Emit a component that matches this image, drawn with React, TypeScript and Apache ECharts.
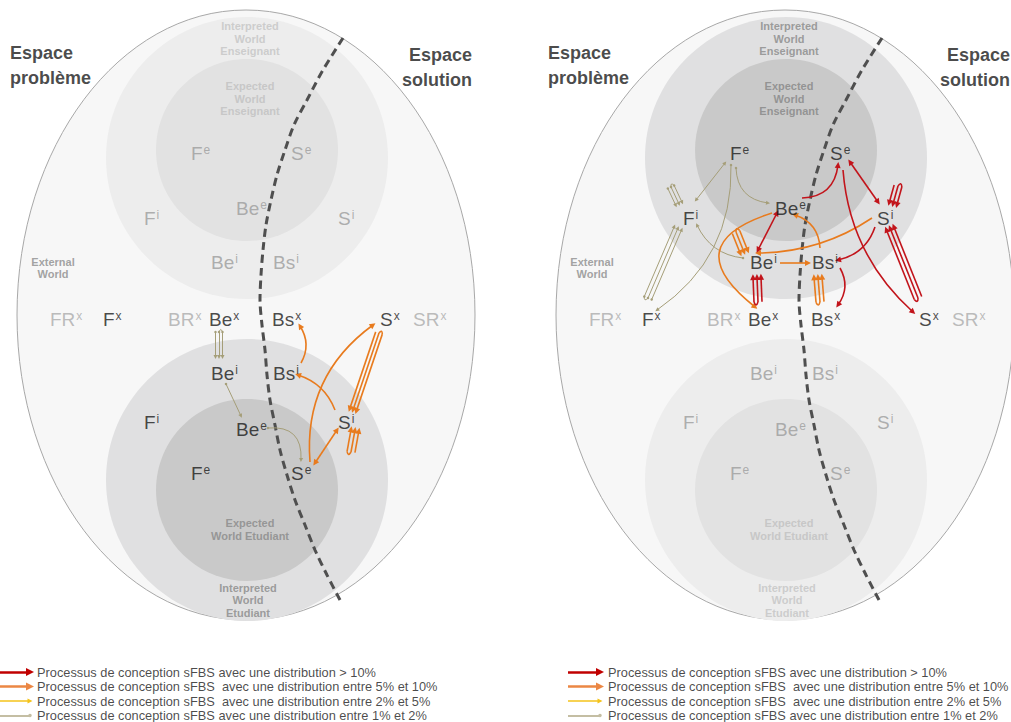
import React, { useEffect, useRef } from 'react';
import * as echarts from 'echarts';

const FONT = '"Liberation Sans", Arial, Helvetica, sans-serif';
const SHIFT = 539; // horizontal distance between the two diagrams

// ---------- regions: [cx, cy, rx, ry, fillIndex]
const regionFills = ['#f7f7f7', '#ededed', '#e2e2e2', '#e0e0e1', '#c9c9c9'];
const worldEllipses = [
  [246, 315, 229, 305, 0],
  [785, 315, 229, 305, 0],
];
const worldCircles = [
  [247, 158, 141, 141, 1], [247, 150, 91, 91, 2], [247, 480, 141, 141, 3], [247, 490, 91, 91, 4],
  [786, 158, 141, 141, 3], [786, 150, 91, 91, 4], [786, 480, 141, 141, 1], [786, 490, 91, 91, 2],
];

// ---------- dashed boundary (left diagram; right one is shifted)
const boundaryX = [343, 323, 307, 294, 285, 277, 271, 266, 263, 261, 260, 262, 265, 267, 270, 275, 280, 287, 295, 305, 315, 327, 340];
const boundaryY = [38, 70, 100, 125, 150, 175, 200, 225, 250, 275, 300, 325, 350, 375, 400, 425, 450, 475, 500, 525, 550, 575, 600];

// ---------- nodes (left diagram positions, text start x / center y)
const nodeBase = ['F', 'S', 'Be', 'F', 'S', 'Be', 'Bs', 'FR', 'F', 'BR', 'Be', 'Bs', 'S', 'SR', 'Be', 'Bs', 'F', 'Be', 'S', 'F', 'S'];
const nodeSup = ['e', 'e', 'e', 'i', 'i', 'i', 'i', 'x', 'x', 'x', 'x', 'x', 'x', 'x', 'i', 'i', 'i', 'e', 'i', 'e', 'e'];
const nodeX = [191, 291, 236, 144, 338, 211, 273, 50, 103, 168, 209, 272, 380, 413, 211, 273, 144, 236, 338, 191, 291];
const nodeY = [153, 153, 208, 218, 218, 262, 262, 319, 319, 319, 319, 319, 319, 319, 373, 373, 422, 429, 422, 473, 473];
const nodeToneLeft = ['f', 'f', 'f', 'f', 'f', 'f', 'f', 'g', 'a', 'g', 'a', 'a', 'a', 'g', 'a', 'a', 'a', 'a', 'a', 'a', 'a'];
const nodeToneRight = ['a', 'a', 'a', 'a', 'a', 'a', 'a', 'g', 'a', 'g', 'a', 'a', 'a', 'g', 'f', 'f', 'f', 'f', 'f', 'f', 'f'];

// ---------- zone captions
const zoneText = ['Interpreted\nWorld\nEnseignant', 'Expected\nWorld\nEnseignant', 'External\nWorld', 'Expected\nWorld Etudiant', 'Interpreted\nWorld\nEtudiant'];
const zoneX = [250, 250, 53, 250, 248];
const zoneY = [38.5, 98.5, 268, 529.5, 600];
const zoneColorLeft = ['#c4c4c4', '#c0c0c0', '#8c8c8c', '#888888', '#888888'];
const zoneColorRight = ['#888888', '#858585', '#8c8c8c', '#c0c0c0', '#c4c4c4'];

// ---------- headings
const headingText = ['Espace\nproblème', 'Espace\nsolution'];

// ---------- arrows [x1, y1, x2, y2, curveness, doubleHeaded]
const tanArrows = [
  [226, 384, 241, 416, 0, 0],
  [268, 428, 301, 460, 0.57, 0],
  [725, 163, 696, 200, 0, 1],
  [736, 168, 768, 203, -0.42, 0],
  [731, 165, 657, 310, 0.27, 0],
  [743, 258, 697, 225, 0.28, 0],
];
const orangeArrows = [
  [301, 363, 300, 326, -0.3, 0],
  [335, 410, 298, 375, -0.24, 0],
  [310, 462, 373, 325, 0.28, 0],
  [315, 463, 337, 430, 0, 1],
  [772, 213, 755, 307, -0.94, 0],
  [780, 263, 808, 263, 0, 0],
  [820, 248, 795, 215, -0.34, 0],
  [872, 218, 758, 253, 0.15, 0],
];
const redArrows = [
  [777, 213, 758, 250, 0, 1],
  [802, 198, 838, 165, -0.43, 0],
  [850, 162, 878, 202, 0, 1],
  [843, 170, 913, 312, -0.2, 0],
  [875, 227, 838, 260, 0.28, 0],
  [840, 268, 838, 305, 0.32, 0],
];
// bundles (back-and-forth hairpins) [fromX, fromY, toX, toY, spacing]
const tanBundles = [
  [219, 332, 219, 357, 3.5],
  [671, 187, 679, 204, 3.5],
  [648, 298, 678, 228, 4],
];
const orangeBundles = [
  [379, 333, 353, 410, 3.5],
  [351, 452, 355, 430, 4],
  [736, 232, 744, 252, 4],
  [820, 302, 818, 277, 4],
];
const redBundles = [
  [918, 298, 890, 228, 4],
  [898, 186, 893, 204, 4],
  [758, 302, 757, 277, 4],
];

// ---------- legend
const legendText = [
  'Processus de conception sFBS avec une distribution > 10%',
  'Processus de conception sFBS  avec une distribution entre 5% et 10%',
  'Processus de conception sFBS  avec une distribution entre 2% et 5%',
  'Processus de conception sFBS avec une distribution entre 1% et 2%',
];
const legendY = [672, 686.5, 701, 715.5];
const legendArrowX = [[-4, 30], [568, 600]];
const legendTextX = [37, 608];

const LEVEL = {
  red: { color: '#c2141b', width: 1.6, head: 6 },
  orange: { color: '#e87b1e', width: 1.6, head: 6 },
  tan: { color: '#a59e78', width: 1, head: 4 },
};
const legendStyle = [
  { color: '#c00000', width: 2.5, head: 8, sym: 'triangle' },
  { color: '#eb8744', width: 2.5, head: 8, sym: 'triangle' },
  { color: '#f4c31a', width: 1.5, head: 5, sym: 'triangle' },
  { color: '#c4bea3', width: 2, head: 3.5, sym: 'circle' },
];

function linesBase(color: string, width: number) {
  return {
    type: 'lines',
    coordinateSystem: 'cartesian2d',
    silent: true,
    z: 3,
    lineStyle: { color, width, opacity: 1 },
    effect: { show: false },
  };
}

function arrowSeries(level: { color: string; width: number; head: number }, arrows: number[][], bundles: number[][], tanStart: boolean) {
  const singles: any[] = [];
  const doubles: any[] = [];
  const caps: any[] = [];
  arrows.forEach((a) => {
    const item = { coords: [[a[0], a[1]], [a[2], a[3]]], lineStyle: { curveness: a[4] } };
    (a[5] ? doubles : singles).push(item);
  });
  bundles.forEach((b) => {
    const [px, py, qx, qy, w] = b;
    const len = Math.hypot(px - qx, py - qy);
    const ux = (px - qx) / len;
    const uy = (py - qy) / len;
    const nx = -uy;
    const ny = ux;
    [-1, 0, 1].forEach((k) => {
      singles.push({ coords: [[px + nx * k * w, py + ny * k * w], [qx + nx * k * w, qy + ny * k * w]], lineStyle: { curveness: 0 } });
    });
    caps.push({ coords: [[px, py], [px + nx * w, py + ny * w]], lineStyle: { curveness: 1.4 } });
  });
  return [
    { ...linesBase(level.color, level.width), symbol: [tanStart ? 'circle' : 'none', 'triangle'], symbolSize: [tanStart ? 2.5 : 1, level.head], data: singles },
    { ...linesBase(level.color, level.width), symbol: ['triangle', 'triangle'], symbolSize: level.head, data: doubles },
    { ...linesBase(level.color, level.width), symbol: 'none', data: caps },
  ];
}

function richFor() {
  const mk = (color: string) => ({
    base: { fontSize: 19, lineHeight: 20, color, fontFamily: FONT },
    sup: { fontSize: 12, lineHeight: 12, color, fontFamily: FONT, verticalAlign: 'top', padding: [1, 0, 0, 1] },
  });
  const a = mk('#1a1a1a');
  const f = mk('#9c9c9c');
  const g = mk('#ababab');
  return { a: a.base, as: a.sup, f: f.base, fs: f.sup, g: g.base, gs: g.sup };
}

function buildOption() {
  const regionData = [...worldEllipses, ...worldCircles];
  const rich = richFor();
  const texts: any[] = [];

  // nodes
  [nodeToneLeft, nodeToneRight].forEach((tones, d) => {
    nodeBase.forEach((b, i) => {
      const t = tones[i];
      texts.push({
        value: [nodeX[i] + d * SHIFT, nodeY[i]],
        label: { show: true, position: 'right', distance: 0, formatter: `{${t}|${b}}{${t}s|${nodeSup[i]}}`, rich },
      });
    });
  });
  // zone captions
  [zoneColorLeft, zoneColorRight].forEach((cols, d) => {
    zoneText.forEach((t, i) => {
      texts.push({
        value: [zoneX[i] + d * SHIFT, zoneY[i]],
        label: { show: true, position: 'inside', formatter: t, align: 'center', verticalAlign: 'middle', fontSize: 11, lineHeight: 12.5, fontWeight: 'bold', color: cols[i], fontFamily: FONT },
      });
    });
  });
  // headings
  [0, 1].forEach((d) => {
    texts.push({
      value: [10 + d * (SHIFT - 1), 65],
      label: { show: true, position: 'right', distance: 0, formatter: headingText[0], align: 'left', fontSize: 18, lineHeight: 25, fontWeight: 'bold', color: '#1a1a1a', fontFamily: FONT },
    });
    texts.push({
      value: [472 + d * (SHIFT - 1), 67],
      label: { show: true, position: 'left', distance: 0, formatter: headingText[1], align: 'right', fontSize: 18, lineHeight: 25, fontWeight: 'bold', color: '#1a1a1a', fontFamily: FONT },
    });
  });
  // legend text
  legendTextX.forEach((x) => {
    legendText.forEach((t, i) => {
      texts.push({
        value: [x, legendY[i]],
        label: { show: true, position: 'right', distance: 0, formatter: t, fontSize: 12.8, color: '#1a1a1a', fontFamily: FONT },
      });
    });
  });

  const legendSeries = legendStyle.map((s, i) => ({
    ...linesBase(s.color, s.width),
    symbol: ['none', s.sym],
    symbolSize: s.head,
    data: legendArrowX.map((xs) => ({ coords: [[xs[0], legendY[i]], [xs[1], legendY[i]]] })),
  }));

  return {
    animation: false,
    backgroundColor: '#ffffff',
    grid: { left: 0, right: 0, top: 0, bottom: 0, containLabel: false },
    xAxis: { type: 'value', min: 0, max: 1011, show: false },
    yAxis: { type: 'value', min: 0, max: 722, inverse: true, show: false },
    series: [
      {
        type: 'custom',
        silent: true,
        z: 1,
        data: regionData,
        renderItem: (params: any, api: any) => {
          const c = api.coord([api.value(0), api.value(1)]);
          const s = api.size([api.value(2) * 2, api.value(3) * 2], [api.value(0), api.value(1)]);
          const fi = api.value(4);
          return {
            type: 'ellipse',
            shape: { cx: c[0], cy: c[1], rx: s[0] / 2, ry: s[1] / 2 },
            style: { fill: regionFills[fi], stroke: fi === 0 ? '#a8a8a8' : null, lineWidth: 1 },
          };
        },
      },
      ...[0, 1].map((d) => ({
        type: 'line',
        silent: true,
        z: 2,
        smooth: 0.3,
        showSymbol: false,
        symbol: 'none',
        lineStyle: { color: '#4f4f4f', width: 3, type: [8, 5] },
        data: boundaryX.map((x, i) => [x + d * SHIFT, boundaryY[i]]),
      })),
      ...arrowSeries(LEVEL.tan, tanArrows, tanBundles, true),
      ...arrowSeries(LEVEL.orange, orangeArrows, orangeBundles, false),
      ...arrowSeries(LEVEL.red, redArrows, redBundles, false),
      ...legendSeries,
      {
        type: 'scatter',
        silent: true,
        z: 5,
        symbolSize: 0,
        itemStyle: { color: 'rgba(0,0,0,0)' },
        data: texts,
      },
    ],
  };
}

export default function App() {
  const ref = useRef<HTMLDivElement>(null);
  useEffect(() => {
    const chart = echarts.init(ref.current as HTMLDivElement, null, { renderer: 'svg' });
    chart.setOption(buildOption() as any);
    return () => chart.dispose();
  }, []);
  return (
    <div
      ref={ref}
      style={{ position: 'fixed', left: 0, top: 0, width: 1011, height: 722, background: '#ffffff' }}
    />
  );
}
